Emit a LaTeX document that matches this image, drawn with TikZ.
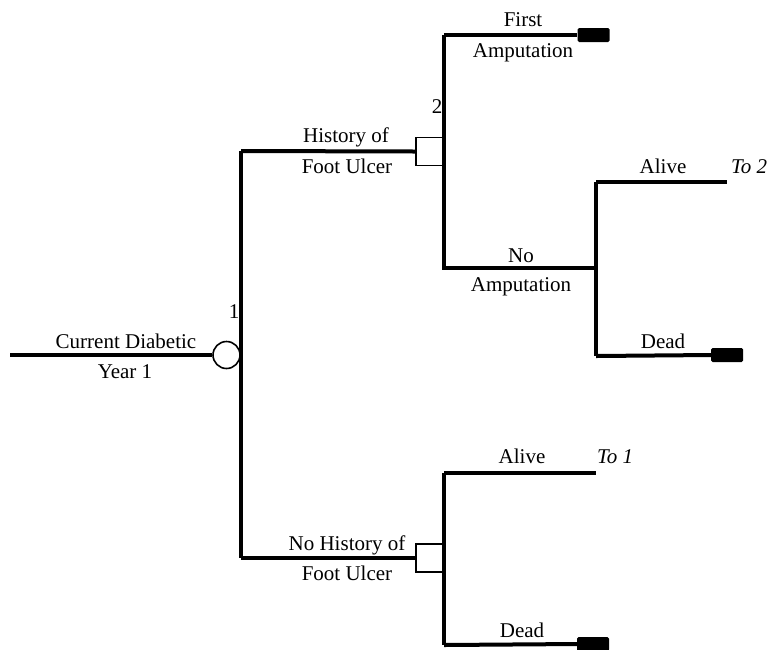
\documentclass[tikz,border=0pt]{standalone}
\usepackage{fontspec}
\setmainfont{Liberation Serif}
\begin{document}
\begin{tikzpicture}[x=1pt,y=-1pt,
  branch/.style={line width=4pt,line cap=butt,line join=miter},
  lbl/.style={font=\fontsize{21}{24}\selectfont,anchor=base,inner sep=0pt},
  ilbl/.style={font=\fontsize{21}{24}\selectfont\itshape,anchor=base west,inner sep=0pt},
  chance/.style={circle,draw,line width=1.6pt,fill=white,minimum size=27pt,inner sep=0pt},
  decision/.style={rectangle,draw,line width=1.6pt,fill=white,minimum width=27pt,minimum height=28pt,inner sep=0pt},
  terminal/.style={rectangle,fill=black,rounded corners=1.5pt,minimum width=32pt,minimum height=14pt,inner sep=0pt}]
\useasboundingbox (0,0) rectangle (770,649);
% coordinates
\coordinate (root) at (10,355);
\coordinate (v1t) at (241,151);
\coordinate (v1b) at (241,558);
\coordinate (v2t) at (444,35);
\coordinate (v2b) at (444,268);
\coordinate (na) at (596,268);
\coordinate (v3t) at (596,182);
\coordinate (v3b) at (596,356);
\coordinate (alive1) at (727,182);
\coordinate (v4t) at (444,473);
\coordinate (v4b) at (444,645);
\coordinate (alive2) at (596,473);
% nodes
\node[terminal] (t1) at (593.5,35) {};
\node[terminal] (t2) at (727,355) {};
\node[terminal] (t3) at (593,644) {};
% branches
\draw[branch] (v1t) -- (v1b);
\draw[branch] (v2t) -- (v2b) -- (na);
\draw[branch] (v2t) -- (t1.west);
\draw[branch] (v3t) -- (v3b);
\draw[branch] (v3t) -- (alive1);
\draw[branch] (v3b) -- (t2.west);
\draw[branch] (v4t) -- (v4b);
\draw[branch] (v4t) -- (alive2);
\draw[branch] (v4b) -- (t3.west);
\node[chance] (c1) at (226.5,355) {};
\node[decision] (s1) at (429.5,151.5) {};
\node[decision] (s2) at (429.5,558) {};
\draw[branch] (root) -- (c1.west);
\draw[branch] (s1.west) -- (v1t);
\draw[branch] (s2.west) -- (v1b);
% labels
\node[lbl] (l1) at (126,348) {Current Diabetic};
\node[lbl] (l2) at (125,378) {Year 1};
\node[lbl] (n1) at (234,318) {1};
\node[lbl] (l3) at (346,142) {History of};
\node[lbl] (l4) at (347,173) {Foot Ulcer};
\node[lbl] (n2) at (437,113) {2};
\node[lbl] (l5) at (523,26) {First};
\node[lbl] (l6) at (523,57) {Amputation};
\node[lbl] (l7) at (521,262) {No};
\node[lbl] (l8) at (521,291) {Amputation};
\node[lbl] (l9) at (663,173) {Alive};
\node[ilbl] (l10) at (731,173) {To 2};
\node[lbl] (l11) at (663,348) {Dead};
\node[lbl] (l12) at (347,550) {No History of};
\node[lbl] (l13) at (347,580) {Foot Ulcer};
\node[lbl] (l14) at (522,463) {Alive};
\node[ilbl] (l15) at (597,463) {To 1};
\node[lbl] (l16) at (522,637) {Dead};
\end{tikzpicture}
\end{document}
